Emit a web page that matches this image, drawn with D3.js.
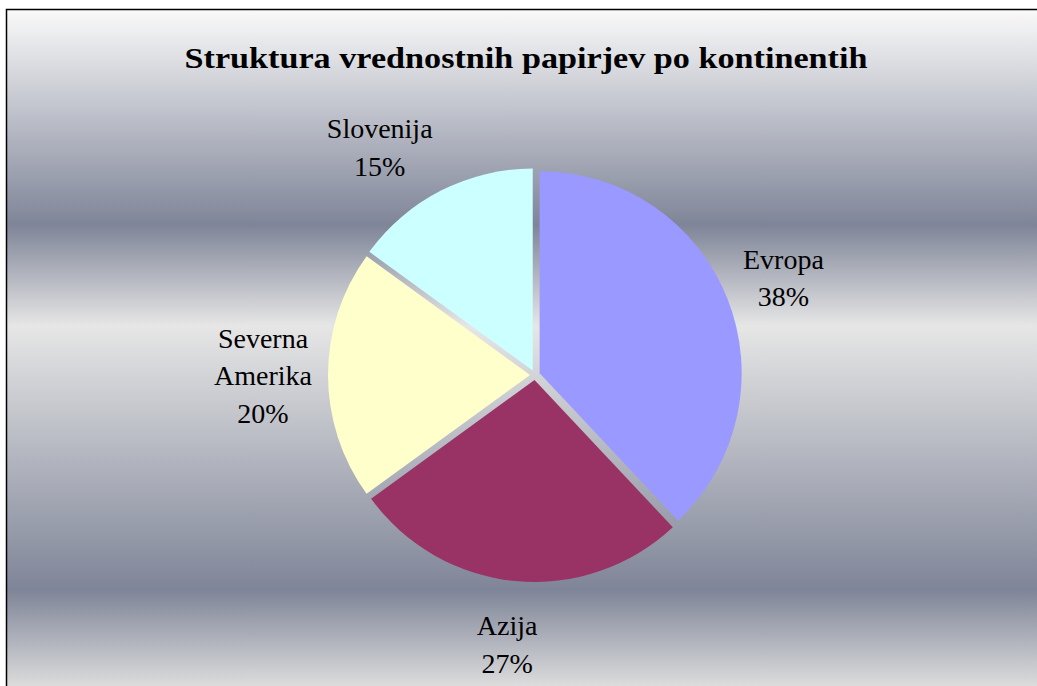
<!DOCTYPE html>
<html>
<head>
<meta charset="utf-8">
<script src="https://cdn.jsdelivr.net/npm/d3@7"></script>
<style>
  body { margin: 0; background: #fff; }
  text { font-family: "Liberation Serif", "DejaVu Serif", serif; fill: #000; }
</style>
</head>
<body>
<div class="chart"></div>
<script>
// data
const categories = ["Evropa", "Azija", "Severna Amerika", "Slovenija"];
const shares = [38, 27, 20, 15];
const colors = ["#9999ff", "#993366", "#ffffcc", "#ccffff"];
const title = "Struktura vrednostnih papirjev po kontinentih";

const W = 1037, H = 686;
const cx = 535, cy = 375, r = 202, explode = 5;

const svg = d3.select(".chart")
  .append("svg")
  .attr("width", W)
  .attr("height", H);

// chrome-like background bands
const grad = svg.append("defs").append("linearGradient")
  .attr("id", "bg")
  .attr("gradientUnits", "userSpaceOnUse")
  .attr("x1", 0).attr("x2", 0)
  .attr("y1", 9).attr("y2", H);
const band = d3.scaleLinear().domain([9, H]).range([0, 1]);
[[9, "#fafafa"], [225, "#7f8598"], [326, "#e6e6e6"], [590, "#7f8598"], [H, "#dcdcdc"]]
  .forEach(s => grad.append("stop").attr("offset", band(s[0])).attr("stop-color", s[1]));

svg.append("rect")
  .attr("x", 6.5).attr("y", 9.5)
  .attr("width", W).attr("height", H)
  .attr("fill", "url(#bg)")
  .attr("stroke", "#000")
  .attr("stroke-width", 1.5);

const titleText = svg.append("text")
  .attr("x", 526).attr("y", 68)
  .attr("text-anchor", "middle")
  .style("font-weight", "bold")
  .style("font-size", "30px")
  .text(title);
// Palatino-ish width
titleText.attr("textLength", 683).attr("lengthAdjust", "spacingAndGlyphs");

const data = categories.map((c, i) => ({ name: c, value: shares[i], color: colors[i] }));
const pie = d3.pie().sort(null).value(d => d.value);
const arcs = pie(data);
const arc = d3.arc().innerRadius(0).outerRadius(r);
const total = d3.sum(shares);

const g = svg.append("g").attr("transform", `translate(${cx},${cy})`);

g.selectAll(".slice")
  .data(arcs)
  .enter()
  .append("path")
  .attr("class", "slice")
  .attr("d", arc)
  .attr("fill", d => d.data.color)
  .attr("transform", d => {
    const a = (d.startAngle + d.endAngle) / 2;
    return `translate(${explode * Math.sin(a)},${-explode * Math.cos(a)})`;
  });

// labels (best-fit nudges like Excel)
const labelArc = d3.arc().innerRadius(265).outerRadius(265);
const nudge = { "Evropa": [2, 0], "Azija": [-3, 5], "Severna Amerika": [-7, 0], "Slovenija": [-35, 8] };
const lineH = 37.5;

arcs.forEach(d => {
  const [lx, ly] = labelArc.centroid(d);
  const n = nudge[d.data.name];
  const lines = d.data.name.split(" ").concat([Math.round(d.data.value / total * 100) + "%"]);
  const t = g.append("text")
    .attr("text-anchor", "middle")
    .style("font-size", "28px")
    .attr("x", lx + n[0])
    .attr("y", ly + n[1] - (lines.length - 1) * lineH / 2 + 10);
  lines.forEach((s, i) => {
    t.append("tspan")
      .attr("x", lx + n[0])
      .attr("dy", i === 0 ? 0 : lineH)
      .text(s);
  });
});
</script>
</body>
</html>
